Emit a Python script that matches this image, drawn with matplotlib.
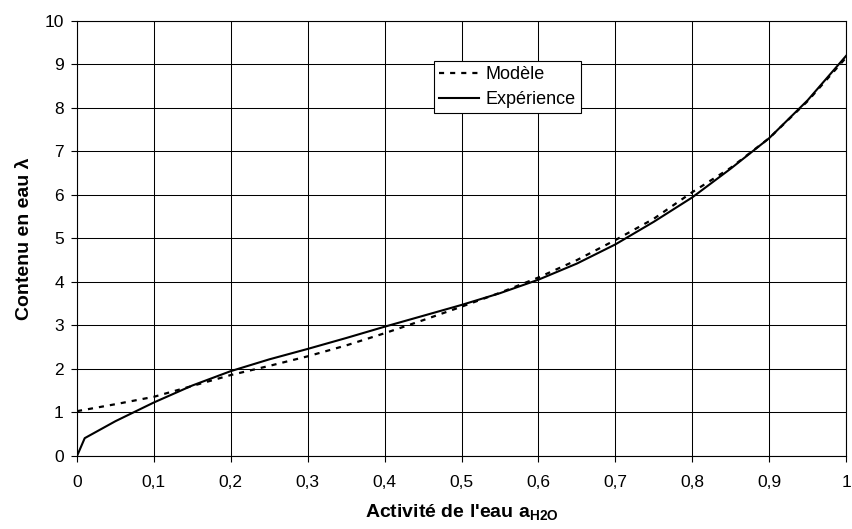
import numpy as np
import matplotlib
matplotlib.use('Agg')
import matplotlib.pyplot as plt
from matplotlib.ticker import FuncFormatter

plt.rcParams['font.family'] = ['Liberation Sans', 'DejaVu Sans']
plt.rcParams['mathtext.fontset'] = 'custom'
plt.rcParams['mathtext.rm'] = 'Liberation Sans'
plt.rcParams['mathtext.bf'] = 'Liberation Sans:bold'

# ── Données ─────────────────────────────────────────────────────────────────
a_exp = [0, 0.01, 0.05, 0.1, 0.15, 0.2, 0.25, 0.3, 0.35, 0.4, 0.45, 0.5,
         0.55, 0.6, 0.65, 0.7, 0.75, 0.8, 0.85, 0.9, 0.95, 1.0]
lam_exp = [0, 0.41, 0.8, 1.23, 1.62, 1.95, 2.22, 2.46, 2.71, 2.97, 3.22, 3.47,
           3.74, 4.05, 4.42, 4.86, 5.38, 5.94, 6.6, 7.3, 8.17, 9.19]

a_mod = [0, 0.05, 0.1, 0.15, 0.2, 0.25, 0.3, 0.35, 0.4, 0.45, 0.5,
         0.55, 0.6, 0.65, 0.7, 0.75, 0.8, 0.85, 0.9, 0.95, 1.0]
lam_mod = [1.03, 1.19, 1.36, 1.61, 1.86, 2.07, 2.29, 2.54, 2.82, 3.12, 3.43,
           3.75, 4.1, 4.5, 4.96, 5.45, 6.06, 6.62, 7.3, 8.15, 9.15]

fig = plt.figure(figsize=(8.53, 5.29), dpi=100)
ax = fig.add_axes([0.0903, 0.138, 0.9015, 0.8229])

ax.plot(a_mod, lam_mod, color='black', linestyle=(0, (2.3, 2.7)), linewidth=1.6,
        label='Modèle')
ax.plot(a_exp, lam_exp, color='black', linestyle='-', linewidth=1.5,
        label='Expérience')

ax.set_xlim(0, 1)
ax.set_ylim(0, 10)
ax.set_xticks(np.arange(0, 1.01, 0.1))
ax.set_yticks(np.arange(0, 11, 1))
ax.xaxis.set_major_formatter(FuncFormatter(
    lambda v, p: '0' if abs(v) < 1e-9 else ('1' if abs(v - 1) < 1e-9 else f'{v:.1f}'.replace('.', ','))))
ax.grid(True, color='black', linewidth=0.75)
ax.tick_params(direction='out', length=4.5, width=0.8, labelsize=12.5, pad=5)
ax.tick_params(axis='x', pad=9)
for s in ax.spines.values():
    s.set_linewidth(0.8)

ax.set_xlabel(r"Activité de l'eau a$_\mathbf{H2O}$", fontsize=14,
              fontweight='bold', labelpad=9)
ax.set_ylabel('Contenu en eau λ', fontsize=14, fontweight='bold', labelpad=8)

leg = ax.legend(loc='upper left', bbox_to_anchor=(0.464, 0.9085), fontsize=13,
                frameon=True, fancybox=False, framealpha=1, edgecolor='black',
                handlelength=2.2, handletextpad=0.35, borderpad=0.3,
                labelspacing=0.45, borderaxespad=0)
leg.get_frame().set_linewidth(0.8)

plt.savefig('out.png', dpi=100)
